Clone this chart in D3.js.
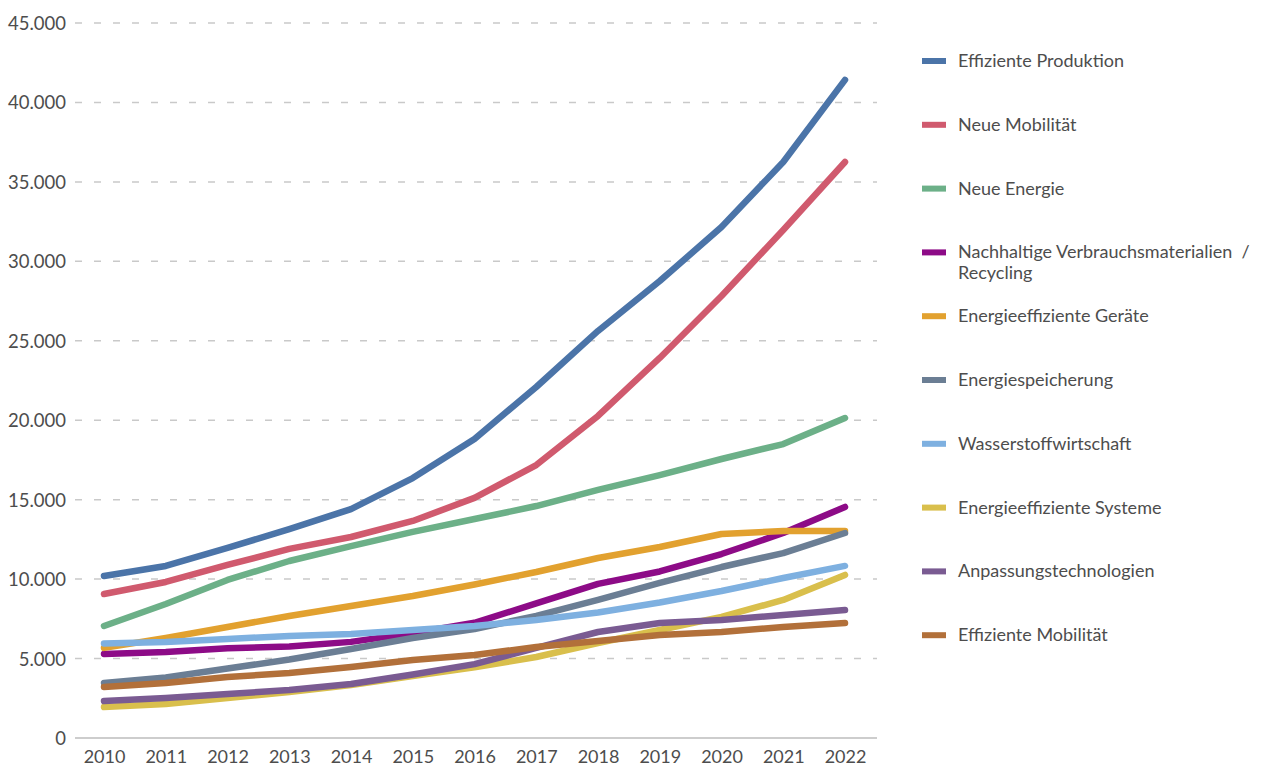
<!DOCTYPE html>
<html>
<head>
<meta charset="utf-8">
<script src="https://cdn.jsdelivr.net/npm/d3@7"></script>
<style>
  html, body { margin: 0; padding: 0; background: #fff; }
  svg { display: block; font-family: Lato, "Open Sans", sans-serif; }
</style>
</head>
<body>
<svg id="chart" width="1264" height="769"></svg>
<script>
// Years on the x axis
const years = [2010, 2011, 2012, 2013, 2014, 2015, 2016, 2017, 2018, 2019, 2020, 2021, 2022];

// Series names (legend order)
const seriesNames = [
  "Effiziente Produktion",
  "Neue Mobilität",
  "Neue Energie",
  "Nachhaltige Verbrauchsmaterialien / Recycling",
  "Energieeffiziente Geräte",
  "Energiespeicherung",
  "Wasserstoffwirtschaft",
  "Energieeffiziente Systeme",
  "Anpassungstechnologien",
  "Effiziente Mobilität"
];

// Values per series, 2010–2022
const effizienteProduktion = [10200, 10830, 11960, 13150, 14410, 16360, 18820, 22090, 25620, 28760, 32160, 36250, 41420];
const neueMobilitaet       = [9060, 9820, 10890, 11900, 12650, 13660, 15110, 17180, 20270, 23920, 27820, 31970, 36250];
const neueEnergie          = [7050, 8430, 9950, 11140, 12080, 12970, 13780, 14600, 15610, 16550, 17560, 18500, 20140];
const nachhaltige          = [5290, 5420, 5650, 5760, 6050, 6600, 7250, 8470, 9700, 10480, 11580, 12900, 14540];
const geraete              = [5670, 6290, 6990, 7680, 8310, 8940, 9660, 10450, 11330, 12020, 12840, 13030, 13030];
const speicherung          = [3460, 3810, 4370, 4940, 5600, 6290, 6860, 7680, 8690, 9760, 10760, 11640, 12900];
const wasserstoff          = [5950, 6040, 6230, 6420, 6550, 6800, 7050, 7430, 7900, 8530, 9250, 10070, 10830];
const systeme              = [1950, 2140, 2520, 2900, 3340, 3900, 4450, 5100, 5980, 6800, 7620, 8690, 10260];
const anpassung            = [2330, 2520, 2770, 3020, 3400, 4000, 4650, 5670, 6670, 7240, 7430, 7740, 8060];
const effizienteMobilitaet = [3210, 3460, 3840, 4090, 4470, 4910, 5220, 5730, 6100, 6480, 6670, 6990, 7240];

const seriesValues = [
  effizienteProduktion, neueMobilitaet, neueEnergie, nachhaltige, geraete,
  speicherung, wasserstoff, systeme, anpassung, effizienteMobilitaet
];

const seriesColors = [
  "#4b74a8", "#d05a6e", "#6cb088", "#8d0b87", "#e2a12f",
  "#6b7e94", "#7eb0e0", "#d9bf4c", "#7a5b92", "#b2703a"
];

// Y axis ticks
const yTicks = [0, 5000, 10000, 15000, 20000, 25000, 30000, 35000, 40000, 45000];

const svg = d3.select("#chart");

const x = d3.scaleLinear().domain([2010, 2022]).range([104, 845]);
const y = d3.scaleLinear().domain([0, 45000]).range([738, 23]);

const fmt = v => d3.format(",")(v).replace(/,/g, ".");

// Dashed horizontal grid lines
svg.append("g")
  .selectAll("line")
  .data(yTicks.filter(d => d > 0))
  .join("line")
  .attr("x1", 75).attr("x2", 877)
  .attr("y1", d => y(d)).attr("y2", d => y(d))
  .attr("stroke", "#c9c9c9")
  .attr("stroke-width", 1.5)
  .attr("stroke-dasharray", "7,12");

// Baseline
svg.append("line")
  .attr("x1", 75).attr("x2", 877)
  .attr("y1", y(0)).attr("y2", y(0))
  .attr("stroke", "#bdbdbd")
  .attr("stroke-width", 1.5);

// Y axis labels
const yAxis = d3.axisLeft(y).tickValues(yTicks).tickFormat(fmt).tickSize(0).tickPadding(0);
const gy = svg.append("g").attr("transform", "translate(66,0)").call(yAxis);
gy.select(".domain").remove();
gy.selectAll("text")
  .attr("fill", "#4d4d4d")
  .style("font-family", "Lato, sans-serif")
  .style("font-size", "18.5px")
  .attr("dy", "0.35em");

// X axis labels
const xAxis = d3.axisBottom(x).tickValues(years).tickFormat(d3.format("d")).tickSize(0).tickPadding(0);
const gx = svg.append("g").attr("transform", "translate(0,750)").call(xAxis);
gx.select(".domain").remove();
gx.selectAll("text")
  .attr("fill", "#4d4d4d")
  .style("font-family", "Lato, sans-serif")
  .style("font-size", "18px")
  .attr("dy", "0.71em");

// Lines
const line = d3.line()
  .x((d, i) => x(years[i]))
  .y(d => y(d))
  .curve(d3.curveLinear);

svg.append("g")
  .selectAll("path")
  .data(seriesValues)
  .join("path")
  .attr("d", d => line(d))
  .attr("fill", "none")
  .attr("stroke", (d, i) => seriesColors[i])
  .attr("stroke-width", 6.5)
  .attr("stroke-linecap", "round")
  .attr("stroke-linejoin", "round");

// Legend
const legendTop = 61;
const legendStep = 63.8;
const legend = svg.append("g");
seriesNames.forEach((name, i) => {
  const cy = legendTop + i * legendStep;
  legend.append("rect")
    .attr("x", 922).attr("y", cy - 3)
    .attr("width", 24).attr("height", 6)
    .attr("fill", seriesColors[i]);
  const parts = name === "Nachhaltige Verbrauchsmaterialien / Recycling"
    ? ["Nachhaltige Verbrauchsmaterialien  /", "Recycling"]
    : [name];
  const t = legend.append("text")
    .attr("x", 958).attr("y", cy - 1)
    .attr("fill", "#4d4d4d")
    .style("font-size", "18px")
    .style("white-space", "pre")
    .attr("dominant-baseline", "central");
  parts.forEach((p, j) => {
    t.append("tspan").attr("x", 958).attr("dy", j === 0 ? 0 : 21).text(p);
  });
});
</script>
</body>
</html>
